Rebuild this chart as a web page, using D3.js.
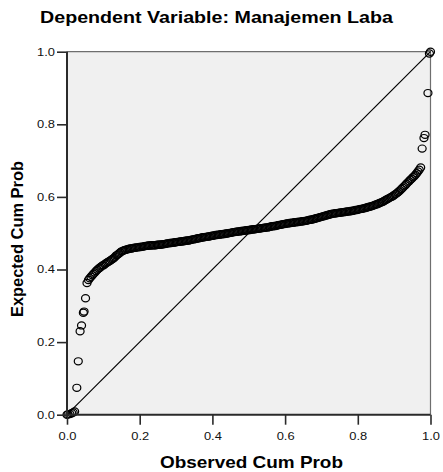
<!DOCTYPE html>
<html>
<head>
<meta charset="utf-8">
<script src="https://cdn.jsdelivr.net/npm/d3@7"></script>
<style>
  body { margin: 0; background: #fff; }
  svg { display: block; font-family: Arial, "Liberation Sans", sans-serif; }
</style>
</head>
<body>
<svg id="chart" width="443" height="472"></svg>
<script>
const width = 443;
const height = 472;

const titleText = "Dependent Variable: Manajemen Laba";
const xTitle = "Observed Cum Prob";
const yTitle = "Expected Cum Prob";
const tickValues = [0, 0.2, 0.4, 0.6, 0.8, 1.0];

// observed cumulative probability of each residual
const observed = [
    0.000, 0.003, 0.008, 0.013, 0.017, 0.021, 0.027, 0.031, 0.036, 0.040,
    0.045, 0.047, 0.051, 0.055,
    0.0590, 0.0625, 0.0660, 0.0695, 0.0730, 0.0765, 0.0800, 0.0835, 0.0870, 0.0905,
    0.0940, 0.0975, 0.1010, 0.1045, 0.1080, 0.1115, 0.1150, 0.1185, 0.1220, 0.1255,
    0.1290, 0.1325, 0.1360, 0.1395, 0.1430, 0.1465, 0.1500, 0.1535, 0.1570, 0.1605,
    0.1640, 0.1675, 0.1710, 0.1745, 0.1780, 0.1815, 0.1850, 0.1885, 0.1920, 0.1955,
    0.1990, 0.2025, 0.2060, 0.2095, 0.2130, 0.2165, 0.2200, 0.2235, 0.2270, 0.2305,
    0.2340, 0.2375, 0.2410, 0.2445, 0.2480, 0.2515, 0.2550, 0.2585, 0.2620, 0.2655,
    0.2690, 0.2725, 0.2760, 0.2795, 0.2830, 0.2865, 0.2900, 0.2935, 0.2970, 0.3005,
    0.3040, 0.3075, 0.3110, 0.3145, 0.3180, 0.3215, 0.3250, 0.3285, 0.3320, 0.3355,
    0.3390, 0.3425, 0.3460, 0.3495, 0.3530, 0.3565, 0.3600, 0.3635, 0.3670, 0.3705,
    0.3740, 0.3775, 0.3810, 0.3845, 0.3880, 0.3915, 0.3950, 0.3985, 0.4020, 0.4055,
    0.4090, 0.4125, 0.4160, 0.4195, 0.4230, 0.4265, 0.4300, 0.4335, 0.4370, 0.4405,
    0.4440, 0.4475, 0.4510, 0.4545, 0.4580, 0.4615, 0.4650, 0.4685, 0.4720, 0.4755,
    0.4790, 0.4825, 0.4860, 0.4895, 0.4930, 0.4965, 0.5000, 0.5035, 0.5070, 0.5105,
    0.5140, 0.5175, 0.5210, 0.5245, 0.5280, 0.5315, 0.5350, 0.5385, 0.5420, 0.5455,
    0.5490, 0.5525, 0.5560, 0.5595, 0.5630, 0.5665, 0.5700, 0.5735, 0.5770, 0.5805,
    0.5840, 0.5875, 0.5910, 0.5945, 0.5980, 0.6015, 0.6050, 0.6085, 0.6120, 0.6155,
    0.6190, 0.6225, 0.6260, 0.6295, 0.6330, 0.6365, 0.6400, 0.6435, 0.6470, 0.6505,
    0.6540, 0.6575, 0.6610, 0.6645, 0.6680, 0.6715, 0.6750, 0.6785, 0.6820, 0.6855,
    0.6890, 0.6925, 0.6960, 0.6995, 0.7030, 0.7065, 0.7100, 0.7135, 0.7170, 0.7205,
    0.7240, 0.7275, 0.7310, 0.7345, 0.7380, 0.7415, 0.7450, 0.7485, 0.7520, 0.7555,
    0.7590, 0.7625, 0.7660, 0.7695, 0.7730, 0.7765, 0.7800, 0.7835, 0.7870, 0.7905,
    0.7940, 0.7975, 0.8010, 0.8045, 0.8080, 0.8115, 0.8150, 0.8185, 0.8220, 0.8255,
    0.8290, 0.8325, 0.8360, 0.8395, 0.8430, 0.8465, 0.8500, 0.8535, 0.8570, 0.8605,
    0.8640, 0.8675, 0.8710, 0.8745, 0.8780, 0.8815, 0.8850, 0.8885, 0.8920, 0.8955,
    0.8990, 0.9025, 0.9060, 0.9095, 0.9130, 0.9165, 0.9200, 0.9235, 0.9270, 0.9305,
    0.9340, 0.9375, 0.9410, 0.9445, 0.9480, 0.9515, 0.9550, 0.9585, 0.9620, 0.9655,
    0.9690, 0.9730,
    0.977, 0.982, 0.985, 0.993, 0.997, 1.000];

// expected cumulative probability (normal)
const expected = [
    0.000, 0.001, 0.002, 0.004, 0.006, 0.009, 0.074, 0.147, 0.230, 0.246,
    0.281, 0.284, 0.321, 0.363,
    0.371, 0.376, 0.380, 0.384, 0.388, 0.392, 0.396, 0.399, 0.403, 0.405,
    0.408, 0.411, 0.412, 0.415, 0.418, 0.420, 0.422, 0.424, 0.427, 0.429,
    0.432, 0.435, 0.439, 0.441, 0.444, 0.447, 0.450, 0.451, 0.453, 0.454,
    0.455, 0.456, 0.457, 0.458, 0.458, 0.459, 0.460, 0.460, 0.461, 0.461,
    0.462, 0.462, 0.463, 0.463, 0.464, 0.465, 0.465, 0.466, 0.466, 0.466,
    0.467, 0.467, 0.467, 0.467, 0.468, 0.468, 0.468, 0.469, 0.469, 0.470,
    0.470, 0.471, 0.472, 0.472, 0.473, 0.473, 0.474, 0.474, 0.475, 0.475,
    0.476, 0.476, 0.477, 0.477, 0.478, 0.478, 0.479, 0.479, 0.480, 0.480,
    0.481, 0.482, 0.483, 0.483, 0.484, 0.485, 0.486, 0.486, 0.487, 0.488,
    0.489, 0.489, 0.490, 0.490, 0.491, 0.491, 0.492, 0.493, 0.493, 0.494,
    0.495, 0.495, 0.496, 0.496, 0.497, 0.497, 0.498, 0.498, 0.499, 0.499,
    0.500, 0.501, 0.501, 0.502, 0.503, 0.503, 0.504, 0.504, 0.505, 0.505,
    0.506, 0.506, 0.507, 0.507, 0.508, 0.508, 0.509, 0.509, 0.510, 0.510,
    0.511, 0.511, 0.512, 0.512, 0.513, 0.513, 0.514, 0.514, 0.515, 0.515,
    0.516, 0.516, 0.517, 0.518, 0.519, 0.519, 0.520, 0.520, 0.521, 0.522,
    0.523, 0.523, 0.524, 0.525, 0.525, 0.526, 0.527, 0.527, 0.528, 0.528,
    0.529, 0.529, 0.530, 0.530, 0.531, 0.531, 0.532, 0.532, 0.533, 0.533,
    0.534, 0.534, 0.535, 0.536, 0.537, 0.537, 0.538, 0.539, 0.540, 0.541,
    0.542, 0.543, 0.544, 0.545, 0.546, 0.547, 0.548, 0.549, 0.550, 0.551,
    0.552, 0.553, 0.554, 0.554, 0.555, 0.555, 0.556, 0.556, 0.557, 0.557,
    0.558, 0.558, 0.559, 0.559, 0.560, 0.560, 0.561, 0.561, 0.562, 0.563,
    0.564, 0.564, 0.565, 0.566, 0.567, 0.567, 0.568, 0.569, 0.570, 0.571,
    0.572, 0.573, 0.574, 0.575, 0.576, 0.578, 0.579, 0.580, 0.582, 0.583,
    0.585, 0.586, 0.588, 0.590, 0.592, 0.594, 0.596, 0.598, 0.600, 0.602,
    0.604, 0.607, 0.609, 0.612, 0.615, 0.618, 0.622, 0.625, 0.629, 0.632,
    0.636, 0.640, 0.643, 0.647, 0.650, 0.654, 0.657, 0.661, 0.665, 0.670,
    0.675, 0.681,
    0.733, 0.762, 0.771, 0.886, 0.995, 1.000];

const points = observed.map((p, i) => ({ p: p, q: expected[i] }));

const svg = d3.select("#chart");

const plotLeft = 67, plotRight = 430.5, plotTop = 51.7, plotBottom = 414.7;

const x = d3.scaleLinear().domain([0, 1]).range([plotLeft, plotRight]);
const y = d3.scaleLinear().domain([0, 1]).range([plotBottom, plotTop]);

// title
svg.append("text")
    .attr("x", 40)
    .attr("y", 23.3)
    .attr("font-size", 16.5)
    .attr("font-weight", "bold")
    .attr("textLength", 353)
    .attr("lengthAdjust", "spacingAndGlyphs")
    .text(titleText);

// plot background
svg.append("rect")
    .attr("x", x(0))
    .attr("y", y(1))
    .attr("width", x(1) - x(0))
    .attr("height", y(0) - y(1))
    .attr("fill", "#f0f0f0");

// top and right frame
svg.append("path")
    .attr("d", "M" + x(0) + "," + y(1) + "H" + x(1) + "V" + y(0))
    .attr("fill", "none")
    .attr("stroke", "#6e6e6e")
    .attr("stroke-width", 1.2);

// reference diagonal
svg.append("line")
    .attr("x1", x(0)).attr("y1", y(0))
    .attr("x2", x(1)).attr("y2", y(1))
    .attr("stroke", "#000")
    .attr("stroke-width", 1.2);

// points
svg.append("g")
    .selectAll("ellipse")
    .data(points)
    .enter()
    .append("ellipse")
    .attr("cx", d => x(d.p))
    .attr("cy", d => y(d.q))
    .attr("rx", 4)
    .attr("ry", 3.6)
    .attr("fill", "none")
    .attr("stroke", "#000")
    .attr("stroke-width", 1.2);

// axes
const xAxis = svg.append("g")
    .attr("transform", "translate(0," + plotBottom + ")")
    .call(d3.axisBottom(x).tickValues(tickValues).tickFormat(d3.format(".1f"))
        .tickSize(10).tickPadding(8));

const yAxis = svg.append("g")
    .attr("transform", "translate(" + plotLeft + ",0)")
    .call(d3.axisLeft(y).tickValues(tickValues).tickFormat(d3.format(".1f"))
        .tickSize(10).tickPadding(2));

[xAxis, yAxis].forEach(g => {
    g.select(".domain").attr("stroke", "#2a2a2a").attr("stroke-width", 2);
    g.selectAll(".tick line").attr("stroke", "#2a2a2a").attr("stroke-width", 1.6);
    g.selectAll(".tick text")
        .attr("fill", "#111")
        .attr("font-size", 10.5)
        .attr("font-family", "Arial, 'Liberation Sans', sans-serif");
});
xAxis.selectAll(".tick text").attr("transform", "scale(1.23,1)");
yAxis.selectAll(".tick text").attr("x", -12 / 1.23).attr("transform", "scale(1.23,1)");
yAxis.select(".domain").attr("d", "M0," + plotBottom + "V" + plotTop);
xAxis.select(".domain").attr("d", "M" + plotLeft + ",0H" + plotRight);

// axis titles
svg.append("text")
    .attr("x", 160)
    .attr("y", 468)
    .attr("font-size", 17)
    .attr("font-weight", "bold")
    .attr("textLength", 183)
    .attr("lengthAdjust", "spacingAndGlyphs")
    .text(xTitle);

svg.append("text")
    .attr("transform", "translate(22.7,317) rotate(-90)")
    .attr("x", 0)
    .attr("y", 0)
    .attr("font-size", 16)
    .attr("font-weight", "bold")
    .attr("textLength", 156)
    .attr("lengthAdjust", "spacingAndGlyphs")
    .text(yTitle);
</script>
</body>
</html>
